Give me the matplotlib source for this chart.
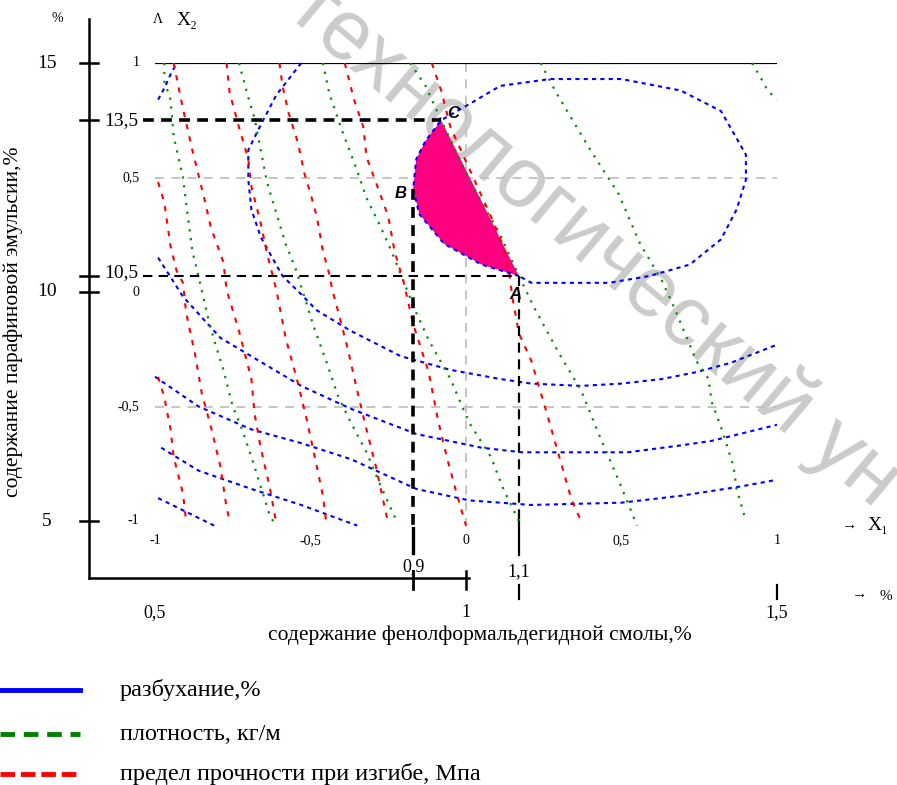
import matplotlib
matplotlib.use('Agg')
import matplotlib.pyplot as plt
from matplotlib.lines import Line2D

plt.rcParams['font.family'] = ['Liberation Serif', 'DejaVu Serif']

# coded factors: x1 (resin) and x2 (paraffin emulsion), both from -1 to 1
# swelling contours (blue)
sw_closed_x = [0.17, 0.05, -0.07, -0.15, -0.17, -0.16, -0.13, -0.08, 0.01, 0.11, 0.27, 0.50,
               0.69, 0.82, 0.90, 0.90, 0.87, 0.82, 0.72, 0.59, 0.46, 0.30, 0.21, 0.17]
sw_closed_y = [0.07, 0.12, 0.21, 0.34, 0.45, 0.58, 0.66, 0.75, 0.82, 0.90, 0.93, 0.93,
               0.88, 0.79, 0.60, 0.49, 0.36, 0.23, 0.12, 0.07, 0.04, 0.04, 0.04, 0.07]
sw_1_x = [-0.99, -0.97, -0.95, -0.93]
sw_1_y = [0.84, 0.89, 0.95, 1.0]
sw_2_x = [-0.53, -0.61, -0.66, -0.70, -0.70, -0.69, -0.66, -0.59, -0.53, -0.48, -0.37, -0.21,
          -0.05, 0.11, 0.21, 0.37, 0.50, 0.63, 0.74, 0.85, 1.0]
sw_2_y = [1.0, 0.86, 0.73, 0.62, 0.49, 0.36, 0.24, 0.07, -0.01, -0.08, -0.17, -0.28,
          -0.34, -0.38, -0.40, -0.41, -0.40, -0.38, -0.35, -0.31, -0.23]
sw_3_x = [-0.99, -0.91, -0.79, -0.53, -0.37, -0.16, 0.05, 0.18, 0.44, 0.52, 0.69, 0.79, 1.0]
sw_3_y = [0.15, -0.02, -0.20, -0.41, -0.51, -0.62, -0.68, -0.70, -0.70, -0.70, -0.67, -0.65, -0.58]
sw_4_x = [-1.0, -0.86, -0.69, -0.53, -0.37, -0.16, 0.01, 0.21, 0.50, 0.69, 0.88, 1.0]
sw_4_y = [-0.37, -0.50, -0.60, -0.66, -0.73, -0.86, -0.91, -0.93, -0.92, -0.89, -0.85, -0.82]
sw_5_x = [-0.98, -0.86, -0.69, -0.53, -0.35]
sw_5_y = [-0.68, -0.78, -0.86, -0.93, -1.02]
sw_6_x = [-0.99, -0.90, -0.81]
sw_6_y = [-0.90, -0.96, -1.02]

# density contours (green)
de_1_x = [-0.97, -0.97, -0.95, -0.94, -0.91, -0.90, -0.88, -0.85, -0.83, -0.81, -0.78, -0.75,
          -0.72, -0.69, -0.66, -0.63, -0.61]
de_1_y = [1.0, 0.92, 0.84, 0.68, 0.50, 0.39, 0.18, 0.01, -0.11, -0.21, -0.34, -0.50,
          -0.60, -0.72, -0.85, -0.98, -1.02]
de_2_x = [-0.73, -0.70, -0.68, -0.66, -0.64, -0.62, -0.58, -0.55, -0.52, -0.49, -0.45, -0.41,
          -0.37, -0.32, -0.27, -0.22]
de_2_y = [1.0, 0.85, 0.76, 0.62, 0.48, 0.39, 0.21, 0.11, -0.02, -0.15, -0.30, -0.46,
          -0.57, -0.70, -0.86, -1.01]
de_3_x = [-0.46, -0.44, -0.40, -0.35, -0.32, -0.28, -0.24, -0.19, -0.16, -0.12, -0.05, 0.01,
          0.08, 0.12, 0.17]
de_3_y = [1.0, 0.87, 0.71, 0.53, 0.41, 0.30, 0.18, 0.01, -0.09, -0.21, -0.38, -0.57,
          -0.72, -0.86, -1.0]
de_4_x = [-0.18, -0.13, -0.08, 0.01, 0.11, 0.17, 0.22, 0.26, 0.30, 0.37, 0.43, 0.49, 0.55]
de_4_y = [1.0, 0.90, 0.75, 0.49, 0.25, 0.07, -0.07, -0.17, -0.27, -0.43, -0.63, -0.82, -1.02]
de_5_x = [0.24, 0.29, 0.40, 0.49, 0.56, 0.63, 0.67, 0.71, 0.74, 0.78, 0.79, 0.82, 0.86, 0.87, 0.90]
de_5_y = [1.0, 0.87, 0.62, 0.43, 0.21, 0.05, -0.07, -0.20, -0.30, -0.38, -0.48, -0.59,
          -0.76, -0.86, -1.0]
de_6_x = [0.92, 0.95, 0.97, 1.0]
de_6_y = [1.0, 0.93, 0.88, 0.84]

# bending strength contours (red)
st_0_x = [-0.99, -0.97, -0.95, -0.94, -0.91, -0.90]
st_0_y = [-0.37, -0.46, -0.60, -0.72, -0.88, -1.0]
st_1_x = [-0.99, -0.97, -0.95, -0.93, -0.91, -0.90, -0.87, -0.85, -0.82, -0.79, -0.77, -0.76]
st_1_y = [0.48, 0.39, 0.20, 0.09, 0.04, -0.09, -0.28, -0.44, -0.59, -0.76, -0.94, -1.0]
st_2_x = [-0.94, -0.91, -0.88, -0.84, -0.82, -0.78, -0.77, -0.73, -0.69, -0.68, -0.66, -0.63, -0.61]
st_2_y = [1.0, 0.80, 0.62, 0.40, 0.28, 0.13, 0.01, -0.17, -0.38, -0.53, -0.68, -0.86, -1.01]
st_3_x = [-0.77, -0.76, -0.73, -0.70, -0.69, -0.66, -0.64, -0.61, -0.58, -0.54, -0.51, -0.48,
          -0.46, -0.45]
st_3_y = [1.0, 0.87, 0.72, 0.58, 0.46, 0.30, 0.17, 0.01, -0.20, -0.40, -0.57, -0.76, -0.89, -1.0]
st_4_x = [-0.60, -0.59, -0.57, -0.54, -0.52, -0.50, -0.48, -0.46, -0.44, -0.43, -0.41, -0.38,
          -0.35, -0.32, -0.29, -0.26, -0.25]
st_4_y = [1.0, 0.90, 0.78, 0.65, 0.52, 0.43, 0.33, 0.18, 0.08, 0.01, -0.09, -0.25, -0.43,
          -0.60, -0.76, -0.95, -1.01]
st_5_x = [-0.39, -0.36, -0.33, -0.32, -0.29, -0.25, -0.23, -0.20, -0.17, -0.12, -0.09, -0.06,
          -0.03, 0.0]
st_5_y = [1.0, 0.84, 0.72, 0.59, 0.48, 0.33, 0.18, 0.04, -0.14, -0.35, -0.56, -0.73, -0.88, -1.02]
st_6_x = [-0.11, -0.08, -0.05, -0.01, 0.03, 0.08, 0.12, 0.14, 0.15, 0.17, 0.21, 0.26, 0.30, 0.34, 0.37]
st_6_y = [1.0, 0.88, 0.72, 0.60, 0.48, 0.33, 0.20, 0.07, -0.03, -0.18, -0.30, -0.53, -0.72, -0.91, -1.0]

# optimum points
pt_names = ['A', 'B', 'C']
pt_x = [0.17, -0.17, -0.08]
pt_y = [0.07, 0.45, 0.75]

# natural scales
x2_ticks = [15, 10, 5]
x1_ticks = [0.5, 1, 1.5]
x1_tick_labels = ['0,5', '1', '1,5']
coded_ticks = [1, 0.5, 0, -0.5, -1]
coded_left_labels = ['1', '0,5', '0', '-0,5', '-1']
coded_bottom_labels = ['-1', '-0,5', '0', '0,5', '1']

legend_labels = ['разбухание,%', 'плотность, кг/м', 'предел прочности при изгибе, Мпа']
legend_colors = ['#0000ff', '#008000', '#ff0000']

fig = plt.figure(figsize=(8.97, 7.85), dpi=100)
ax = fig.add_axes([155 / 897, 1 - 521 / 785, 622 / 897, 458 / 785])
ax.set_xlim(-1, 1)
ax.set_ylim(-1, 1)
ax.axis('off')

# watermark (cut by the page edge, as in the scan)
fig.text(298 / 897, 1 + 4 / 785, 'технологический ун', rotation=-40,
         rotation_mode='anchor', ha='left', va='center', fontsize=61,
         color='#cbcbcb', family='Liberation Sans', zorder=-1)

# grid lines
ax.plot([-1, 1], [0.5, 0.5], color='#c0c0c0', lw=1.3, ls=(0, (5, 4)))
ax.plot([-1, 1], [-0.5, -0.5], color='#c0c0c0', lw=1.3, ls=(0, (5, 4)))
ax.plot([0, 0], [1, -1.05], color='#c0c0c0', lw=1.3, ls=(0, (5, 4)), clip_on=False)
ax.plot([-1, 1], [1, 1], color='black', lw=1.6)

# optimum region
ax.fill(sw_closed_x[:8], sw_closed_y[:8], color='#ff0080', lw=0, zorder=2)

blue_style = dict(color='#0000ff', lw=1.5, ls=(0, (2, 2)), clip_on=False, zorder=3)
green_style = dict(color='#009000', lw=1.6, ls=(0, (1, 3)), clip_on=False, zorder=3)
red_style = dict(color='#ff0000', lw=1.5, ls=(0, (2.5, 3.5)), clip_on=False, zorder=3)

for xs, ys in [(sw_closed_x, sw_closed_y), (sw_1_x, sw_1_y), (sw_2_x, sw_2_y), (sw_3_x, sw_3_y),
               (sw_4_x, sw_4_y), (sw_5_x, sw_5_y), (sw_6_x, sw_6_y)]:
    ax.plot(xs, ys, **blue_style)
for xs, ys in [(de_1_x, de_1_y), (de_2_x, de_2_y), (de_3_x, de_3_y), (de_4_x, de_4_y),
               (de_5_x, de_5_y), (de_6_x, de_6_y)]:
    ax.plot(xs, ys, **green_style)
for xs, ys in [(st_0_x, st_0_y), (st_1_x, st_1_y), (st_2_x, st_2_y), (st_3_x, st_3_y),
               (st_4_x, st_4_y), (st_5_x, st_5_y), (st_6_x, st_6_y)]:
    ax.plot(xs, ys, **red_style)

# guide lines to the optimum points
ax_x = -1.212   # outer y axis position (coded units)
ax_y = -1.249   # outer x axis position
xa, xb, xc = pt_x
ya, yb, yc = pt_y
ax.plot([-1.04, xc], [yc, yc], color='black', lw=2.6, ls=(0, (3, 2)), clip_on=False, zorder=4)
ax.plot([-1.04, xa], [ya, ya], color='black', lw=1.5, ls=(0, (4.5, 3)), clip_on=False, zorder=4)
ax.plot([xb, xb], [yb, -1.02], color='black', lw=2.6, ls=(0, (3, 2)), clip_on=False, zorder=4)
ax.plot([xb, xb], [-1.03, -1.14], color='black', lw=2.4, clip_on=False)
ax.plot([xb, xb], [ax_y + 0.03, ax_y - 0.05], color='black', lw=2, clip_on=False)
ax.plot([xa, xa], [ya, -1.0], color='black', lw=1.6, ls=(0, (4.5, 3)), clip_on=False, zorder=4)
ax.plot([xa, xa], [-1.0, -1.15], color='black', lw=1.6, clip_on=False)
ax.plot([xa, xa], [-1.28, -1.34], color='black', lw=1.6, clip_on=False)
ax.plot([1.0, 1.0], [-1.28, -1.34], color='black', lw=1.6, clip_on=False)

# point labels
offs = {'A': (-0.01, -0.08), 'B': (-0.04, -0.02), 'C': (0.04, 0.03)}
for name, px, py in zip(pt_names, pt_x, pt_y):
    dx, dy = offs[name]
    ax.text(px + dx, py + dy, name, ha='center', va='center', fontsize=12,
            fontweight='bold', fontstyle='italic', family='Liberation Sans', zorder=5)

# outer axes
ax.plot([ax_x, ax_x], [ax_y, 1.19], color='black', lw=1.8, clip_on=False)
ax.plot([ax_x, 0.01], [ax_y, ax_y], color='black', lw=1.8, clip_on=False)
for v in x2_ticks:
    cy = (v - 10) / 5
    ax.plot([ax_x - 0.03, ax_x + 0.03], [cy, cy], color='black', lw=1.8, clip_on=False)
    ax.text(ax_x - 0.135, cy, str(v), ha='center', va='center', fontsize=14)
for yv, lab in [(yc, '13,5'), (ya, '10,5')]:
    ax.plot([ax_x - 0.03, ax_x + 0.03], [yv, yv], color='black', lw=1.8, clip_on=False)
    ax.text(-1.11, yv + (0.0 if lab == '13,5' else 0.015), lab, ha='center', va='center', fontsize=14)
for v, lab in zip(x1_ticks, x1_tick_labels):
    cx = (v - 1) / 0.5
    if v == 1:
        ax.plot([cx, cx], [ax_y + 0.03, ax_y - 0.05], color='black', lw=1.8, clip_on=False)
    ax.text(cx, -1.40, lab, ha='center', va='center', fontsize=13)
ax.text(xb, -1.20, '0,9', ha='center', va='center', fontsize=13)
ax.text(xa, -1.22, '1,1', ha='center', va='center', fontsize=13)

# coded labels
for cy, lab in zip(coded_ticks, coded_left_labels):
    ax.text(-1.05, cy, lab, ha='right', va='center', fontsize=10)
for cx, lab in zip(coded_ticks[::-1], coded_bottom_labels):
    ax.text(cx, -1.085, lab, ha='center', va='center', fontsize=10)

ax.text(-1.315, 1.195, '%', ha='center', va='center', fontsize=10)
ax.text(-0.99, 1.19, 'Λ', ha='center', va='center', fontsize=10)
ax.text(-0.93, 1.185, 'X₂', ha='left', va='center', fontsize=14)
ax.text(1.21, -1.02, '→', ha='left', va='center', fontsize=11)
ax.text(1.29, -1.02, 'X₁', ha='left', va='center', fontsize=14)
ax.text(1.24, -1.32, '→', ha='left', va='center', fontsize=11)
ax.text(1.33, -1.33, '%', ha='left', va='center', fontsize=11)

ax.text(0.045, -1.50, 'содержание фенолформальдегидной смолы,%', ha='center', va='center',
        fontsize=15.5)
ax.text(-1.455, -0.13, 'содержание парафиновой эмульсии,%', ha='center', va='center',
        rotation=90, fontsize=15.5)

# legend
leg_y = [1 - 690 / 785, 1 - 734 / 785, 1 - 774 / 785]
leg_ls = ['-', (0, (3, 1.8)), (0, (3, 1.2))]
for y, col, ls, lab in zip(leg_y, legend_colors, leg_ls, legend_labels):
    fig.add_artist(Line2D([0, 80 / 897], [y, y], color=col, lw=3.5, ls=ls,
                          transform=fig.transFigure))
    fig.text(120 / 897, y, lab, ha='left', va='center', fontsize=17.5)

fig.savefig('out.png', dpi=100)
